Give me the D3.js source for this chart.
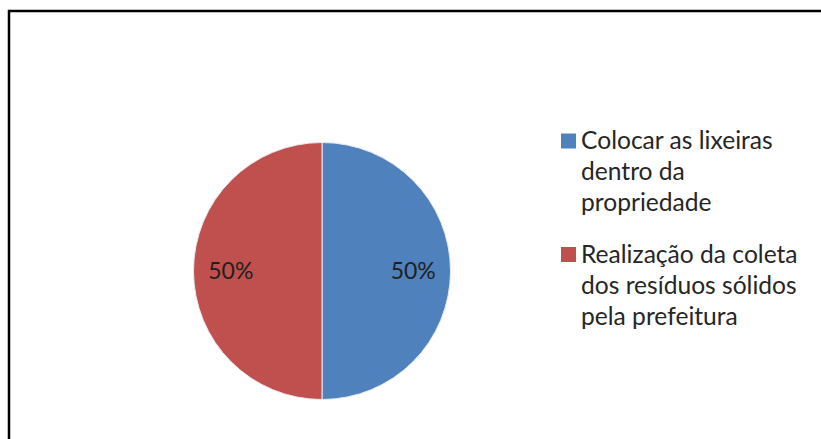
<!DOCTYPE html>
<html>
<head>
<meta charset="utf-8">
<script src="https://cdn.jsdelivr.net/npm/d3@7"></script>
<style>
  html, body { margin: 0; padding: 0; background: #fff; }
  svg { display: block; }
</style>
</head>
<body>
<svg id="chart" width="821" height="439"></svg>
<script>
// Survey answers and their shares
const categories = [
  "Colocar as lixeiras dentro da propriedade",
  "Realização da coleta dos resíduos sólidos pela prefeitura"
];
const values = [50, 50];
const legendLines = [
  ["Colocar as lixeiras", "dentro da", "propriedade"],
  ["Realização da coleta", "dos resíduos sólidos", "pela prefeitura"]
];
const colors = ["#4F81BD", "#C0504D"];

const svg = d3.select("#chart");
const fontFamily = "Lato, 'Open Sans', sans-serif";

// Chart frame (right and bottom edges run past the view)
svg.append("rect")
  .attr("x", 9).attr("y", 11)
  .attr("width", 840).attr("height", 460)
  .attr("fill", "#fff")
  .attr("stroke", "#000")
  .attr("stroke-width", 2.5);

const cx = 322, cy = 271, r = 128.5;

const pie = d3.pie().sort(null).value(d => d.value);
const arcs = pie(categories.map((c, i) => ({ name: c, value: values[i], color: colors[i] })));
const arc = d3.arc().innerRadius(0).outerRadius(r);
const labelArc = d3.arc().innerRadius(r * 0.71).outerRadius(r * 0.71);

const g = svg.append("g").attr("transform", `translate(${cx},${cy})`);

g.selectAll("path.slice")
  .data(arcs)
  .join("path")
  .attr("class", "slice")
  .attr("d", arc)
  .attr("fill", d => d.data.color)
  .attr("stroke", "#e8e8f0")
  .attr("stroke-width", 1);

const total = d3.sum(values);
g.selectAll("text.pct")
  .data(arcs)
  .join("text")
  .attr("class", "pct")
  .attr("transform", d => `translate(${labelArc.centroid(d)})`)
  .attr("text-anchor", "middle")
  .attr("dy", "0.36em")
  .attr("font-family", fontFamily)
  .attr("font-size", 23)
  .attr("fill", "#1f1f1f")
  .text(d => Math.round(d.data.value / total * 100) + "%");

// Legend
const legend = svg.append("g").attr("transform", "translate(561,0)");
const entryTop = [133.5, 247];
const lineGap = 31;

legendLines.forEach((lines, i) => {
  const e = legend.append("g").attr("transform", `translate(0,${entryTop[i]})`);
  e.append("rect")
    .attr("x", 0).attr("y", 0)
    .attr("width", 15).attr("height", 15)
    .attr("fill", colors[i]);
  e.selectAll("text")
    .data(lines)
    .join("text")
    .attr("x", 20)
    .attr("y", (d, j) => 15.5 + j * lineGap)
    .attr("font-family", fontFamily)
    .attr("font-size", 24.6)
    .attr("fill", "#262626")
    .text(d => d);
});
</script>
</body>
</html>
